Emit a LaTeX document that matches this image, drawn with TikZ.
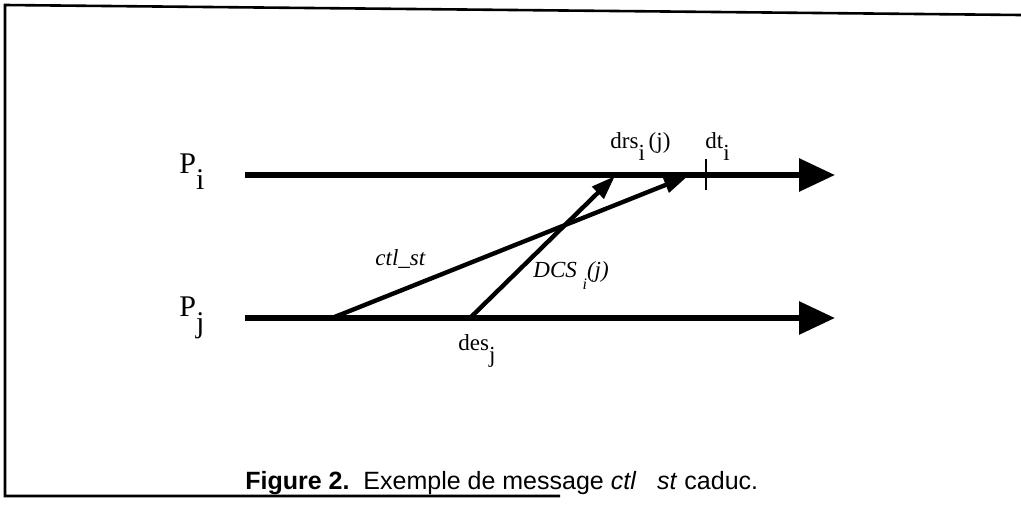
\documentclass[tikz,border=0pt]{standalone}
\usepackage{fontspec}
\setmainfont{Liberation Serif}
\newfontfamily\capfont{Liberation Sans}
\usetikzlibrary{arrows.meta}
\newcommand{\lowsub}[1]{\raisebox{-0.55em}{#1}}

\begin{document}
\begin{tikzpicture}[x=0.5pt, y=-0.5pt,
    proc/.style={line width=3pt, -{Triangle[length=18pt, width=16pt]}},
    msg/.style={line width=2.2pt, -{Triangle[length=12pt, width=8pt]}},
    lbl/.style={font=\fontsize{11.5}{13}\selectfont, inner sep=0pt, anchor=base west},
    plbl/.style={font=\fontsize{15}{17}\selectfont, inner sep=0pt, anchor=base west}]
    \useasboundingbox (0,0) rectangle (1021,504);
    % frame
    \draw[line width=1.3pt] (560,496) -- (5,496) -- (5,5) -- (1021,15);
    % processes
    \coordinate (pi0) at (245,175);
    \coordinate (pi1) at (835,175);
    \coordinate (pj0) at (245,318);
    \coordinate (pj1) at (835,318);
    \draw[proc] (pi0) -- (pi1);
    \draw[proc] (pj0) -- (pj1);
    \node[plbl] (pi) at (179,173) {P\lowsub{i}};
    \node[plbl] (pj) at (179,316) {P\lowsub{j}};
    % messages
    \coordinate (ctl0) at (332,318);
    \coordinate (ctl1) at (688,176);
    \coordinate (dcs0) at (470,318);
    \coordinate (dcs1) at (615,176);
    \draw[msg] (ctl0) -- (ctl1);
    \draw[msg] (dcs0) -- (dcs1);
    % dt tick
    \coordinate (dt0) at (706,159);
    \coordinate (dt1) at (706,190);
    \draw[line width=1pt] (dt0) -- (dt1);
    % labels
    \node[lbl] (drs) at (610,148) {drs\lowsub{i}\,(j)};
    \node[lbl] (dt) at (705,148) {dt\lowsub{i}};
    \node[lbl] (ctl) at (375,265) {\textit{ctl\_st}};
    \node[lbl] (dcs) at (533,277) {\textit{DCS \lowsub{\footnotesize i}(j)}};
    \node[lbl] (des) at (458,350) {des\lowsub{j}};
    % caption
    \node[inner sep=0pt, anchor=base west, font=\capfont\fontsize{12.5}{14}\selectfont] (cap) at (245,489)
        {\textbf{Figure 2.}\ \ Exemple de message \textit{ctl}\ \ \ \textit{st} caduc.};
\end{tikzpicture}
\end{document}
